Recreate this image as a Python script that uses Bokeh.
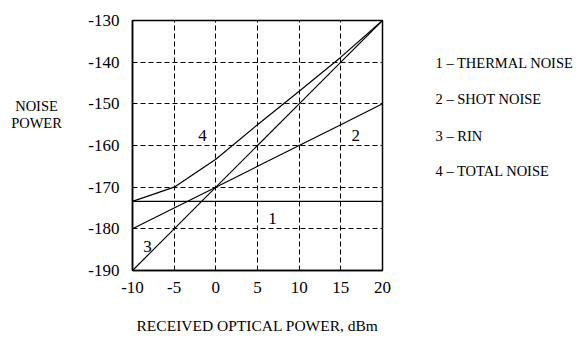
from bokeh.plotting import figure
from bokeh.models import Range1d, FixedTicker, Label
from bokeh.layouts import row
from bokeh.core.properties import value
from bokeh.embed import file_html
from bokeh.resources import INLINE

# ---- data ----
power_dbm = [-10, -5, 0, 5, 10, 15, 20]
thermal = [-173.4, -173.4, -173.4, -173.4, -173.4, -173.4, -173.4]
shot = [-180, -175, -170, -165, -160, -155, -150]
rin = [-190, -180, -170, -160, -150, -140, -130]
total = [-173.4, -170, -163.3, -155, -147, -138.8, -130]

x_ticks = [-10, -5, 0, 5, 10, 15, 20]
x_tick_labels = ["-10", "-5", "0", "5", "10", "15", "20"]
y_ticks = [-190, -180, -170, -160, -150, -140, -130]
y_tick_labels = ["-190", "-180", "-170", "-160", "-150", "-140", "-130"]
x_grid = [-5, 0, 5, 10, 15]
y_grid = [-180, -170, -160, -150, -140]

curve_ids = ["1", "2", "3", "4"]
curve_label_x = [6.8, 16.8, -8.2, -1.6]
curve_label_y = [-177.6, -157.6, -184.2, -157.6]

legend_texts = ["1 \u2013 THERMAL NOISE", "2 \u2013 SHOT NOISE", "3 \u2013 RIN", "4 \u2013 TOTAL NOISE"]
legend_y = [-140.3, -148.9, -157.6, -166.2]
y_title_lines = ["NOISE", "POWER"]
y_title_y = [-150.6, -154.5]
x_title = "RECEIVED OPTICAL POWER, dBm"

FONT = "Liberation Serif"
H = 337
TOP, BOTTOM = 20, 67
LEFT_W, MAIN_W, RIGHT_W = 72, 320, 186

y_range = Range1d(-190, -130)


def blank(width):
    f = figure(width=width, height=H, output_backend="svg", toolbar_location=None,
               x_range=Range1d(0, width), y_range=y_range,
               x_axis_location=None, y_axis_location=None,
               min_border_left=0, min_border_right=0, min_border_top=TOP, min_border_bottom=BOTTOM)
    f.grid.visible = False
    f.outline_line_color = None
    f.background_fill_color = "white"
    f.border_fill_color = "white"
    return f


# ---- left: y title ----
left = blank(LEFT_W)
left.text(x=[36, 36], y=y_title_y, text=y_title_lines, text_font=value(FONT),
          text_font_size=value("14.5px"), text_align="center", text_baseline="middle",
          text_color="black")

# ---- main chart ----
p = figure(width=MAIN_W, height=H, output_backend="svg", toolbar_location=None,
           x_range=Range1d(-10, 20), y_range=y_range,
           min_border_left=60, min_border_right=10, min_border_top=TOP, min_border_bottom=BOTTOM)
p.background_fill_color = "white"
p.border_fill_color = "white"
p.outline_line_color = "black"
p.outline_line_width = 1.5

for ax, ticks, labels in ((p.xaxis, x_ticks, x_tick_labels), (p.yaxis, y_ticks, y_tick_labels)):
    ax.ticker = FixedTicker(ticks=ticks)
    ax.major_label_overrides = {t: s for t, s in zip(ticks, labels)}
    ax.major_tick_in = 0
    ax.major_tick_out = 0
    ax.minor_tick_in = 0
    ax.minor_tick_out = 0
    ax.axis_line_color = "black"
    ax.axis_line_width = 1.5
    ax.major_label_text_font = FONT
    ax.major_label_text_font_size = "17px"
    ax.major_label_text_color = "black"
p.xaxis.major_label_standoff = 11
p.yaxis.major_label_standoff = 13

p.xaxis.axis_label = x_title
p.xaxis.axis_label_text_font = FONT
p.xaxis.axis_label_text_font_size = "15.5px"
p.xaxis.axis_label_text_font_style = "normal"
p.xaxis.axis_label_text_color = "black"
p.xaxis.axis_label_standoff = 21

p.xgrid.ticker = FixedTicker(ticks=x_grid)
p.ygrid.ticker = FixedTicker(ticks=y_grid)
for g in (p.xgrid, p.ygrid):
    g.grid_line_color = "black"
    g.grid_line_width = 1
    g.grid_line_dash = "5 3"
    g.grid_line_alpha = 1

for ys in (thermal, shot, rin, total):
    p.line(power_dbm, ys, line_color="black", line_width=1.2)

for t, lx, ly in zip(curve_ids, curve_label_x, curve_label_y):
    p.add_layout(Label(x=lx, y=ly, text=t, text_font=FONT, text_font_size="17px",
                       text_align="center", text_baseline="middle", text_color="black"))

# ---- right: legend texts ----
right = blank(RIGHT_W)
right.text(x=[43, 43, 43, 43], y=legend_y, text=legend_texts, text_font=value(FONT),
           text_font_size=value("14.5px"), text_align="left", text_baseline="middle",
           text_color="black")

layout = row(left, p, right, spacing=0)
open("out.html", "w").write(file_html(layout, INLINE))
